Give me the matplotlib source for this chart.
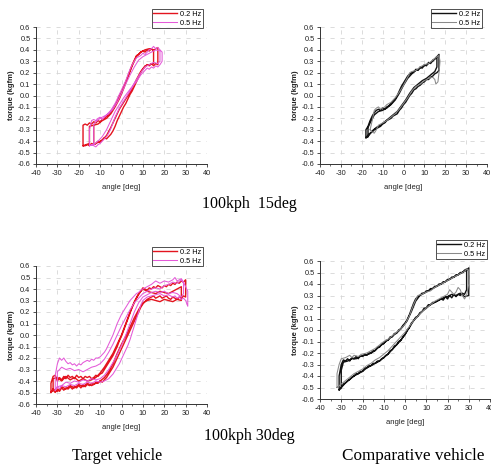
import matplotlib
matplotlib.use('Agg')
import matplotlib.pyplot as plt
from matplotlib.ticker import MultipleLocator, FormatStrFormatter

plt.rcParams['font.family'] = ['Liberation Sans', 'DejaVu Sans']
plt.rcParams['axes.unicode_minus'] = False

# ---------------- data (angle [deg], torque [kgfm]) ----------------
legend_labels = ['0.2 Hz', '0.5 Hz']
captions = ['100kph  15deg', '100kph 30deg']
column_titles = ['Target vehicle', 'Comparative vehicle']

# Target vehicle, 100kph 15deg
target15_02hz = [
    (-18, -0.44), (-18, -0.35), (-18, -0.26), (-17, -0.25), (-16, -0.26), (-15, -0.24), (-14, -0.25),
    (-13, -0.23), (-12, -0.24), (-11, -0.22), (-10, -0.23), (-9, -0.21), (-8, -0.20), (-7, -0.18),
    (-6, -0.17), (-5, -0.14), (-4, -0.12), (-3, -0.08), (-2, -0.05), (-1, 0.00), (0, 0.03), (1, 0.08),
    (2, 0.12), (3, 0.17), (4, 0.22), (5, 0.27), (6, 0.31), (7, 0.35), (8, 0.36), (9, 0.38), (10, 0.39),
    (11, 0.38), (12, 0.40), (13, 0.39), (14, 0.41), (15, 0.39), (16, 0.41), (17, 0.42), (17, 0.35),
    (17, 0.27), (16, 0.28), (15, 0.26), (14, 0.28), (13, 0.26), (12, 0.27), (11, 0.25), (10, 0.23),
    (9, 0.20), (8, 0.16), (7, 0.12), (6, 0.08), (5, 0.04), (4, 0.01), (3, -0.03), (2, -0.07), (1, -0.10),
    (0, -0.14), (-1, -0.18), (-2, -0.22), (-3, -0.27), (-4, -0.31), (-5, -0.34), (-6, -0.36), (-7, -0.38),
    (-8, -0.37), (-9, -0.39), (-10, -0.41), (-11, -0.40), (-12, -0.42), (-13, -0.43), (-14, -0.42),
    (-15, -0.44), (-16, -0.43), (-17, -0.44), (-18, -0.44),
    (-15, -0.42), (-15, -0.34), (-15, -0.27), (-13, -0.26), (-11, -0.25), (-9, -0.22), (-7, -0.20),
    (-5, -0.16), (-3, -0.10), (-1, -0.03), (1, 0.06), (3, 0.16), (5, 0.26), (7, 0.34), (9, 0.38),
    (11, 0.40), (13, 0.41), (15, 0.40), (15, 0.33), (15, 0.28), (13, 0.27), (11, 0.26), (9, 0.21),
    (7, 0.14), (5, 0.06), (3, 0.00), (1, -0.06), (-1, -0.12), (-3, -0.20), (-5, -0.28), (-7, -0.35),
    (-9, -0.39), (-11, -0.41), (-13, -0.43), (-13, -0.35), (-13, -0.27),
]
target15_05hz = [
    (-15, -0.44), (-15, -0.30), (-14, -0.22), (-13, -0.21), (-12, -0.22), (-11, -0.20), (-10, -0.19),
    (-9, -0.21), (-8, -0.19), (-7, -0.17), (-6, -0.15), (-5, -0.13), (-4, -0.10), (-3, -0.07),
    (-2, -0.03), (-1, 0.01), (0, 0.05), (1, 0.09), (2, 0.13), (3, 0.18), (4, 0.23), (5, 0.27), (6, 0.30),
    (7, 0.33), (8, 0.34), (9, 0.35), (10, 0.37), (11, 0.36), (12, 0.38), (13, 0.40), (14, 0.41),
    (15, 0.43), (16, 0.41), (17, 0.42), (18, 0.40), (19, 0.38), (19, 0.30), (18, 0.27), (17, 0.25),
    (16, 0.26), (15, 0.24), (14, 0.25), (13, 0.23), (12, 0.24), (11, 0.22), (10, 0.20), (9, 0.18),
    (8, 0.15), (7, 0.12), (6, 0.10), (5, 0.07), (4, 0.04), (3, 0.01), (2, -0.02), (1, -0.05), (0, -0.08),
    (-1, -0.11), (-2, -0.15), (-3, -0.19), (-4, -0.24), (-5, -0.29), (-6, -0.33), (-7, -0.36),
    (-8, -0.38), (-9, -0.40), (-10, -0.42), (-11, -0.43), (-12, -0.45), (-13, -0.44), (-14, -0.43),
    (-15, -0.44),
    (-13, -0.43), (-13, -0.25), (-12, -0.23), (-10, -0.20), (-8, -0.18), (-6, -0.16), (-4, -0.12),
    (-2, -0.06), (0, 0.02), (2, 0.10), (4, 0.18), (6, 0.25), (8, 0.31), (10, 0.34), (12, 0.36),
    (14, 0.38), (16, 0.40), (18, 0.39), (18, 0.30), (17, 0.28), (15, 0.29), (13, 0.27), (11, 0.25),
    (9, 0.20), (7, 0.14), (5, 0.08), (3, 0.03), (1, -0.02), (-1, -0.08), (-3, -0.14), (-5, -0.22),
    (-7, -0.30), (-9, -0.36), (-11, -0.40), (-13, -0.43),
]

# Comparative vehicle, 100kph 15deg
comp15_02hz = [
    (-18, -0.37), (-18, -0.30), (-17, -0.27), (-16, -0.22), (-15, -0.18), (-14, -0.15), (-13, -0.13),
    (-12, -0.12), (-11, -0.13), (-10, -0.11), (-9, -0.12), (-8, -0.10), (-7, -0.09), (-6, -0.07),
    (-5, -0.05), (-4, -0.03), (-3, 0.00), (-2, 0.04), (-1, 0.08), (0, 0.11), (1, 0.14), (2, 0.17),
    (3, 0.19), (4, 0.20), (5, 0.21), (6, 0.23), (7, 0.22), (8, 0.25), (9, 0.24), (10, 0.27), (11, 0.26),
    (12, 0.29), (13, 0.28), (14, 0.31), (15, 0.32), (16, 0.34), (17, 0.36), (17, 0.30), (17, 0.22),
    (16, 0.20), (15, 0.19), (14, 0.17), (13, 0.16), (12, 0.14), (11, 0.14), (10, 0.12), (9, 0.11),
    (8, 0.09), (7, 0.08), (6, 0.06), (5, 0.05), (4, 0.02), (3, 0.00), (2, -0.03), (1, -0.06), (0, -0.08),
    (-1, -0.11), (-2, -0.13), (-3, -0.16), (-4, -0.17), (-5, -0.18), (-6, -0.20), (-7, -0.21),
    (-8, -0.22), (-9, -0.24), (-10, -0.25), (-11, -0.27), (-12, -0.28), (-13, -0.29), (-14, -0.30),
    (-15, -0.32), (-16, -0.33), (-17, -0.35), (-18, -0.37),
    (-17, -0.36), (-17, -0.28), (-16, -0.24), (-14, -0.17), (-12, -0.14), (-10, -0.13), (-8, -0.11),
    (-6, -0.08), (-4, -0.04), (-2, 0.02), (0, 0.09), (2, 0.15), (4, 0.19), (6, 0.22), (8, 0.24),
    (10, 0.26), (12, 0.28), (14, 0.30), (16, 0.34), (16, 0.25), (15, 0.21), (13, 0.18), (11, 0.15),
    (9, 0.13), (7, 0.10), (5, 0.07), (3, 0.02), (1, -0.04), (-1, -0.09), (-3, -0.14), (-5, -0.17),
    (-7, -0.20), (-9, -0.23), (-11, -0.26), (-13, -0.28), (-15, -0.31), (-17, -0.36),
]
comp15_05hz = [
    (-16, -0.30), (-15, -0.22), (-14, -0.13), (-13, -0.11), (-12, -0.10), (-11, -0.12), (-10, -0.11),
    (-9, -0.10), (-8, -0.08), (-6, -0.06), (-4, -0.02), (-2, 0.03), (0, 0.09), (2, 0.16), (3, 0.20),
    (4, 0.21), (6, 0.22), (8, 0.25), (10, 0.27), (12, 0.28), (14, 0.31), (16, 0.34), (17, 0.35),
    (17.5, 0.30), (17, 0.20), (16.5, 0.12), (15.5, 0.10), (15, 0.14), (14, 0.16), (12, 0.15), (10, 0.13),
    (8, 0.10), (6, 0.08), (4, 0.04), (2, -0.02), (0, -0.07), (-2, -0.12), (-4, -0.16), (-6, -0.19),
    (-8, -0.22), (-10, -0.24), (-12, -0.26), (-13, -0.30), (-14, -0.33), (-15, -0.32), (-16, -0.30),
]

# Target vehicle, 100kph 30deg
target30_02hz = [
    (-33, -0.50), (-33, -0.42), (-32, -0.36), (-31, -0.35), (-30, -0.40), (-29, -0.37), (-28, -0.39),
    (-27, -0.36), (-26, -0.38), (-25, -0.35), (-24, -0.37), (-23, -0.36), (-22, -0.38), (-21, -0.35),
    (-20, -0.37), (-19, -0.36), (-18, -0.38), (-17, -0.36), (-16, -0.37), (-15, -0.36), (-14, -0.38),
    (-13, -0.37), (-12, -0.35), (-11, -0.36), (-10, -0.34), (-9, -0.33), (-8, -0.30), (-7, -0.27),
    (-6, -0.24), (-5, -0.21), (-4, -0.18), (-3, -0.14), (-2, -0.10), (-1, -0.05), (0, -0.01), (1, 0.04),
    (2, 0.09), (3, 0.14), (4, 0.19), (5, 0.24), (6, 0.28), (7, 0.32), (8, 0.35), (9, 0.38), (10, 0.41),
    (11, 0.40), (12, 0.39), (13, 0.41), (14, 0.40), (15, 0.42), (16, 0.41), (17, 0.43), (18, 0.42),
    (19, 0.41), (20, 0.43), (21, 0.42), (22, 0.44), (23, 0.43), (24, 0.45), (25, 0.44), (26, 0.46),
    (27, 0.45), (28, 0.47), (29, 0.46), (30, 0.48), (30, 0.40), (30, 0.33), (29, 0.34), (28, 0.32),
    (27, 0.33), (26, 0.31), (25, 0.32), (24, 0.33), (23, 0.31), (22, 0.32), (21, 0.34), (20, 0.33),
    (19, 0.32), (18, 0.34), (17, 0.33), (16, 0.32), (15, 0.34), (14, 0.33), (13, 0.32), (12, 0.31),
    (11, 0.29), (10, 0.27), (9, 0.24), (8, 0.20), (7, 0.16), (6, 0.12), (5, 0.08), (4, 0.04), (3, 0.00),
    (2, -0.04), (1, -0.08), (0, -0.12), (-1, -0.16), (-2, -0.20), (-3, -0.24), (-4, -0.28), (-5, -0.31),
    (-6, -0.34), (-7, -0.37), (-8, -0.39), (-9, -0.41), (-10, -0.40), (-11, -0.42), (-12, -0.41),
    (-13, -0.43), (-14, -0.42), (-15, -0.44), (-16, -0.43), (-17, -0.45), (-18, -0.43), (-19, -0.46),
    (-20, -0.44), (-21, -0.46), (-22, -0.45), (-23, -0.47), (-24, -0.45), (-25, -0.47), (-26, -0.46),
    (-27, -0.48), (-28, -0.46), (-29, -0.49), (-30, -0.47), (-31, -0.50), (-32, -0.48), (-33, -0.50),
    (-32, -0.47), (-32, -0.38), (-30, -0.37), (-28, -0.40), (-26, -0.36), (-24, -0.39), (-22, -0.37),
    (-20, -0.40), (-18, -0.38), (-16, -0.40), (-14, -0.39), (-12, -0.37), (-10, -0.33), (-8, -0.28),
    (-6, -0.22), (-4, -0.16), (-2, -0.08), (0, 0.00), (2, 0.10), (4, 0.20), (6, 0.29), (8, 0.36),
    (10, 0.40), (12, 0.38), (14, 0.37), (16, 0.36), (18, 0.38), (20, 0.37), (22, 0.36), (24, 0.38),
    (26, 0.40), (28, 0.42), (28, 0.36), (28, 0.30), (26, 0.31), (24, 0.29), (22, 0.30), (20, 0.31),
    (18, 0.29), (16, 0.30), (14, 0.31), (12, 0.30), (10, 0.28), (8, 0.22), (6, 0.15), (4, 0.07),
    (2, -0.01), (0, -0.08), (-2, -0.16), (-4, -0.25), (-6, -0.32), (-8, -0.37), (-10, -0.40),
    (-12, -0.42), (-14, -0.44), (-16, -0.42), (-18, -0.45), (-20, -0.43), (-22, -0.46), (-24, -0.44),
    (-26, -0.47), (-28, -0.45), (-30, -0.49), (-32, -0.47),
]
target30_05hz = [
    (-31, -0.48), (-31, -0.35), (-30, -0.25), (-29, -0.20), (-28, -0.22), (-27, -0.20), (-26, -0.23),
    (-25, -0.25), (-24, -0.24), (-23, -0.26), (-22, -0.25), (-21, -0.27), (-20, -0.25), (-19, -0.26),
    (-18, -0.24), (-17, -0.23), (-16, -0.22), (-15, -0.23), (-14, -0.21), (-13, -0.22), (-12, -0.20),
    (-11, -0.20), (-10, -0.19), (-9, -0.17), (-8, -0.15), (-7, -0.12), (-6, -0.08), (-5, -0.04),
    (-4, 0.00), (-3, 0.05), (-2, 0.10), (-1, 0.14), (0, 0.18), (1, 0.21), (2, 0.24), (3, 0.27), (4, 0.30),
    (5, 0.32), (6, 0.34), (7, 0.36), (8, 0.37), (9, 0.39), (10, 0.40), (12, 0.42), (14, 0.44), (16, 0.47),
    (18, 0.45), (20, 0.47), (22, 0.46), (24, 0.48), (25, 0.50), (26, 0.47), (28, 0.49), (29, 0.46),
    (30, 0.42), (31, 0.38), (31, 0.30), (31, 0.25), (30, 0.30), (29, 0.32), (28, 0.31), (27, 0.33),
    (26, 0.32), (25, 0.34), (24, 0.33), (22, 0.35), (20, 0.34), (18, 0.36), (16, 0.35), (14, 0.34),
    (12, 0.33), (10, 0.30), (9, 0.26), (8, 0.20), (7, 0.14), (6, 0.08), (5, 0.02), (4, -0.04), (3, -0.09),
    (2, -0.13), (1, -0.17), (0, -0.21), (-1, -0.25), (-2, -0.28), (-3, -0.31), (-4, -0.34), (-5, -0.36),
    (-6, -0.38), (-7, -0.39), (-8, -0.40), (-10, -0.41), (-12, -0.40), (-14, -0.42), (-16, -0.41),
    (-18, -0.43), (-20, -0.42), (-22, -0.44), (-24, -0.43), (-26, -0.45), (-28, -0.44), (-29, -0.47),
    (-30, -0.45), (-31, -0.48),
    (-30, -0.45), (-30, -0.32), (-28, -0.28), (-26, -0.30), (-24, -0.29), (-22, -0.31), (-20, -0.30),
    (-18, -0.32), (-16, -0.30), (-14, -0.28), (-12, -0.27), (-10, -0.25), (-8, -0.21), (-6, -0.15),
    (-4, -0.08), (-2, 0.00), (0, 0.08), (2, 0.15), (4, 0.22), (6, 0.28), (8, 0.32), (10, 0.36),
    (12, 0.38), (14, 0.40), (16, 0.41), (18, 0.40), (20, 0.43), (22, 0.44), (24, 0.46), (26, 0.45),
    (28, 0.48), (29, 0.45), (29, 0.36), (28, 0.33), (26, 0.36), (24, 0.37), (22, 0.36), (20, 0.38),
    (18, 0.37), (16, 0.38), (14, 0.37), (12, 0.35), (10, 0.33), (8, 0.28), (6, 0.20), (4, 0.10),
    (2, 0.00), (0, -0.09), (-2, -0.17), (-4, -0.24), (-6, -0.30), (-8, -0.35), (-10, -0.38),
    (-12, -0.39), (-14, -0.38), (-16, -0.40), (-18, -0.39), (-20, -0.41), (-22, -0.40), (-24, -0.42),
    (-26, -0.41), (-28, -0.44), (-30, -0.45),
]

# Comparative vehicle, 100kph 30deg
comp30_02hz = [
    (-31, -0.52), (-31, -0.40), (-30, -0.30), (-29, -0.26), (-28, -0.27), (-27, -0.25), (-26, -0.27),
    (-25, -0.24), (-24, -0.25), (-23, -0.23), (-22, -0.25), (-21, -0.22), (-20, -0.23), (-19, -0.21),
    (-18, -0.22), (-17, -0.20), (-16, -0.20), (-15, -0.18), (-14, -0.18), (-13, -0.15), (-12, -0.15),
    (-11, -0.12), (-10, -0.12), (-9, -0.09), (-8, -0.09), (-7, -0.06), (-6, -0.06), (-5, -0.03),
    (-4, -0.03), (-3, 0.00), (-2, 0.01), (-1, 0.04), (0, 0.06), (1, 0.09), (2, 0.13), (3, 0.18),
    (4, 0.23), (5, 0.27), (6, 0.29), (7, 0.30), (8, 0.32), (9, 0.32), (10, 0.34), (11, 0.34), (12, 0.36),
    (13, 0.36), (14, 0.38), (15, 0.38), (16, 0.40), (17, 0.40), (18, 0.42), (19, 0.42), (20, 0.44),
    (21, 0.44), (22, 0.46), (23, 0.46), (24, 0.48), (25, 0.48), (26, 0.50), (27, 0.50), (28, 0.52),
    (29, 0.53), (29, 0.45), (29, 0.35), (28, 0.31), (27, 0.32), (26, 0.30), (25, 0.31), (24, 0.29),
    (23, 0.31), (22, 0.28), (21, 0.30), (20, 0.27), (19, 0.29), (18, 0.26), (17, 0.27), (16, 0.26),
    (15, 0.25), (14, 0.24), (13, 0.24), (12, 0.22), (11, 0.22), (10, 0.19), (9, 0.19), (8, 0.16),
    (7, 0.15), (6, 0.12), (5, 0.11), (4, 0.08), (3, 0.06), (2, 0.02), (1, 0.00), (0, -0.04), (-1, -0.06),
    (-2, -0.09), (-3, -0.10), (-4, -0.13), (-5, -0.14), (-6, -0.17), (-7, -0.18), (-8, -0.21),
    (-9, -0.22), (-10, -0.24), (-11, -0.25), (-12, -0.27), (-13, -0.27), (-14, -0.29), (-15, -0.29),
    (-16, -0.31), (-17, -0.31), (-18, -0.33), (-19, -0.33), (-20, -0.36), (-21, -0.36), (-22, -0.38),
    (-23, -0.38), (-24, -0.40), (-25, -0.41), (-26, -0.43), (-27, -0.44), (-28, -0.46), (-29, -0.47),
    (-30, -0.50), (-31, -0.52),
    (-30, -0.50), (-30, -0.35), (-29, -0.28), (-27, -0.27), (-25, -0.25), (-23, -0.25), (-21, -0.23),
    (-19, -0.22), (-17, -0.21), (-15, -0.19), (-13, -0.16), (-11, -0.13), (-9, -0.10), (-7, -0.07),
    (-5, -0.04), (-3, -0.01), (-1, 0.03), (1, 0.08), (3, 0.16), (5, 0.25), (7, 0.30), (9, 0.32),
    (11, 0.34), (13, 0.36), (15, 0.38), (17, 0.40), (19, 0.42), (21, 0.44), (23, 0.46), (25, 0.48),
    (27, 0.50), (29, 0.52), (30, 0.54), (30, 0.42), (30, 0.30), (28, 0.29), (26, 0.32), (24, 0.30),
    (22, 0.31), (20, 0.29), (18, 0.28), (16, 0.26), (14, 0.24), (12, 0.22), (10, 0.19), (8, 0.16),
    (6, 0.12), (4, 0.08), (2, 0.02), (0, -0.04), (-2, -0.09), (-4, -0.13), (-6, -0.17), (-8, -0.21),
    (-10, -0.24), (-12, -0.27), (-14, -0.29), (-16, -0.31), (-18, -0.33), (-20, -0.36), (-22, -0.38),
    (-24, -0.40), (-26, -0.43), (-28, -0.46), (-30, -0.50),
]
comp30_05hz = [
    (-32, -0.50), (-32, -0.38), (-31, -0.30), (-30, -0.25), (-28, -0.24), (-26, -0.22), (-25, -0.24),
    (-24, -0.22), (-22, -0.23), (-20, -0.21), (-18, -0.20), (-16, -0.18), (-14, -0.16), (-12, -0.13),
    (-10, -0.10), (-8, -0.08), (-6, -0.05), (-4, -0.02), (-2, 0.01), (0, 0.05), (2, 0.12), (4, 0.22),
    (5, 0.26), (6, 0.30), (8, 0.31), (10, 0.33), (12, 0.34), (14, 0.37), (16, 0.39), (18, 0.41),
    (20, 0.43), (22, 0.45), (24, 0.47), (26, 0.49), (28, 0.51), (29, 0.53), (30, 0.52), (30, 0.40),
    (29, 0.30), (28, 0.27), (27, 0.30), (26, 0.35), (25, 0.37), (24, 0.33), (23, 0.31), (22, 0.33),
    (21, 0.35), (20, 0.31), (18, 0.29), (16, 0.27), (14, 0.25), (12, 0.22), (10, 0.19), (8, 0.16),
    (6, 0.12), (4, 0.08), (2, 0.03), (0, -0.02), (-2, -0.06), (-4, -0.10), (-6, -0.14), (-8, -0.18),
    (-10, -0.21), (-12, -0.24), (-14, -0.26), (-16, -0.29), (-18, -0.31), (-20, -0.34), (-22, -0.36),
    (-24, -0.38), (-26, -0.41), (-28, -0.44), (-30, -0.47), (-32, -0.50),
]

# ---------------- figure ----------------
W, H = 491, 472
fig = plt.figure(figsize=(W / 100, H / 100), dpi=100)


def px_axes(left, top, right, bottom):
    return fig.add_axes([left / W, 1 - bottom / H, (right - left) / W, (bottom - top) / H])


def draw(ax, s02, s05, c02, c05, legend_anchor):
    x02, y02 = zip(*s02)
    x05, y05 = zip(*s05)
    ax.plot(x02, y02, color=c02, lw=1.0, label=legend_labels[0], zorder=3)
    ax.plot(x05, y05, color=c05, lw=0.75, label=legend_labels[1], zorder=4)
    ax.set_xlim(-40, 40)
    ax.set_ylim(-0.6, 0.6)
    for s in ['top', 'right']:
        ax.spines[s].set_visible(False)
    for s in ['left', 'bottom']:
        ax.spines[s].set_linewidth(0.7)
        ax.spines[s].set_color('#333333')
    ax.xaxis.set_major_locator(MultipleLocator(10))
    ax.xaxis.set_minor_locator(MultipleLocator(5))
    ax.yaxis.set_major_locator(MultipleLocator(0.1))
    ax.yaxis.set_major_formatter(FormatStrFormatter('%.1f'))
    ax.tick_params(which='major', direction='out', length=2.5, width=0.6, labelsize=5.3, pad=1.5,
                   colors='#333333', labelcolor='#222222')
    ax.tick_params(which='minor', direction='out', length=1.5, width=0.5, colors='#333333')
    ax.grid(True, which='major', color='#d6d6d6', linestyle=(0, (5, 7)), linewidth=0.6, zorder=0)
    ax.set_axisbelow(True)
    bbox = ax.get_position()
    wpx, hpx = bbox.width * W, bbox.height * H
    ax.set_xlabel('angle [deg]', fontsize=5.5, color='#222222')
    ax.xaxis.set_label_coords(0.5, -20 / hpx)
    ax.set_ylabel('torque (kgfm)', fontsize=5.5, fontweight='bold', color='#222222')
    ax.yaxis.set_label_coords(-21 / wpx, 0.5)
    leg = ax.legend(loc='upper right', bbox_to_anchor=(legend_anchor[0] / W, 1 - legend_anchor[1] / H),
                    bbox_transform=fig.transFigure, fontsize=5.3, frameon=True, fancybox=False,
                    edgecolor='black', borderpad=0.25, handlelength=3.2, handletextpad=0.4,
                    labelspacing=0.2, borderaxespad=0)
    leg.get_frame().set_linewidth(0.6)


RED, MAG = '#e3141e', '#e45ad8'
BLK, GRY = '#111111', '#8a8a8a'

ax1 = px_axes(36, 27, 207, 164)
draw(ax1, target15_02hz, target15_05hz, RED, MAG, (203, 9))
ax2 = px_axes(320, 27, 487, 164)
draw(ax2, comp15_02hz, comp15_05hz, BLK, GRY, (482, 9))
ax3 = px_axes(36, 266, 207, 404)
draw(ax3, target30_02hz, target30_05hz, RED, MAG, (203, 247))
ax4 = px_axes(320, 261, 490, 399)
draw(ax4, comp30_02hz, comp30_05hz, BLK, GRY, (487, 240))

serif = ['Liberation Serif', 'DejaVu Serif']
fig.text(249 / W, 1 - 204 / H, captions[0], ha='center', va='center', family=serif, size=11.5)
fig.text(249 / W, 1 - 436 / H, captions[1], ha='center', va='center', family=serif, size=11.5)
fig.text(117 / W, 1 - 456 / H, column_titles[0], ha='center', va='center', family=serif, size=11.5)
fig.text(342 / W, 1 - 456 / H, column_titles[1], ha='left', va='center', family=serif, size=12.3)

fig.savefig('out.png', dpi=100)
